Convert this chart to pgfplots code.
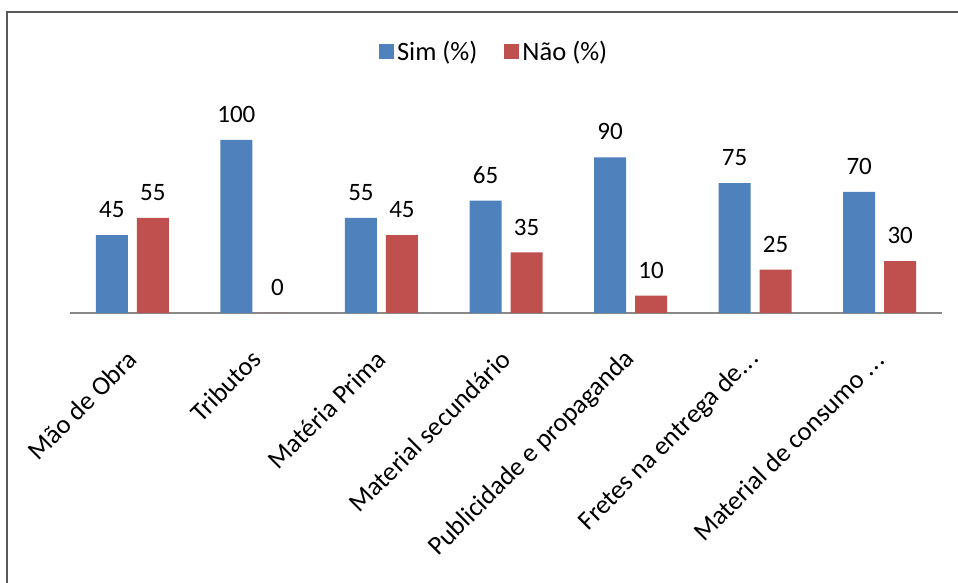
\documentclass[border=0pt]{standalone}
\usepackage{pgfplots}
\pgfplotsset{compat=1.18}
\usepackage{fontspec}
\setmainfont{Carlito}

\definecolor{simblue}{HTML}{4F81BD}
\definecolor{naored}{HTML}{C0504D}
\definecolor{framegray}{HTML}{595959}
\definecolor{axisgray}{HTML}{888888}

\newcommand{\labelfont}{\fontsize{26.5}{31}\selectfont}
\newcommand{\valuefont}{\fontsize{25}{30}\selectfont}

\pgfplotsset{
  sqlegend/.style={legend image code/.code={\fill[##1] (0pt,-7.5pt) rectangle (15pt,7.5pt);}},
}

\begin{document}
\begin{tikzpicture}[x=1pt,y=1pt]
\useasboundingbox (0,0) rectangle (958,583);
\fill[white] (0,0) rectangle (958,583);
% chart area frame (top and left edges)
\draw[framegray, line width=2pt] (7,-5) -- (7,571) -- (965,571);

\begin{axis}[
  at={(70pt,270pt)}, anchor=south west,
  scale only axis, width=872pt, height=173pt,
  ybar, bar width=32pt,
  ymin=0, ymax=100, xmin=-0.5, xmax=6.5,
  clip=false,
  axis x line*=bottom,
  axis y line=none,
  x axis line style={axisgray, line width=1.5pt},
  major tick length=0pt,
  xtick={0,1,2,3,4,5,6},
  xticklabels={{Mão de Obra}, {Tributos}, {Matéria Prima}, {Material secundário},
    {Publicidade e propaganda}, {Fretes na entrega de.\kern1pt.\kern1pt.},
    {Material de consumo .\kern1pt.\kern1pt.}},
  xticklabel style={yshift=-42pt, rotate=45, anchor=east, inner sep=0pt,
    font=\labelfont, text=black},
  /pgf/number format/assume math mode=true,
  nodes near coords,
  nodes near coords style={font=\valuefont, inner sep=0pt, anchor=south,
    yshift=17pt, text=black},
  legend columns=2,
  legend style={at={(rel axis cs:0.487,1.514)}, anchor=center,
    draw=none, fill=none, font=\labelfont,
    nodes={inner sep=3pt},
    /tikz/every even column/.append style={column sep=24pt}},
]
\addplot[bar shift=-20.5pt, fill=simblue, draw=none, sqlegend]
  coordinates {(0,45) (1,100) (2,55) (3,65) (4,90) (5,75) (6,70)};
\addlegendentry{Sim (\%)}
\addplot[bar shift=20.5pt, fill=naored, draw=none, sqlegend]
  coordinates {(0,55) (1,0) (2,45) (3,35) (4,10) (5,25) (6,30)};
\addlegendentry{Não (\%)}
\end{axis}
\end{tikzpicture}
\end{document}
